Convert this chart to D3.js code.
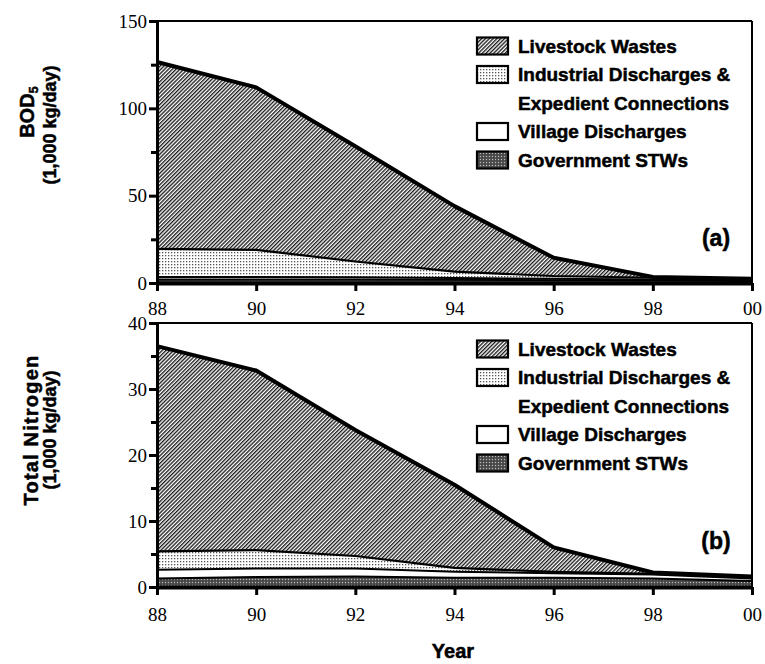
<!DOCTYPE html>
<html>
<head>
<meta charset="utf-8">
<script src="https://cdn.jsdelivr.net/npm/d3@7"></script>
<style>
  html, body { margin: 0; padding: 0; background: #fff; }
  svg { display: block; }
  .tick text { font-family: "Liberation Serif", "Times New Roman", serif; font-size: 19px; fill: #000; }
  .lab { font-family: "Liberation Sans", Arial, sans-serif; font-weight: bold; fill: #000; }
  .heavy { stroke: #000; stroke-width: 0.5px; }
</style>
</head>
<body>
<svg id="chart" width="765" height="664"></svg>
<script>
// ---- data ----
const years = [1988, 1990, 1992, 1994, 1996, 1998, 2000];
const seriesKeys = ["Government STWs", "Village Discharges", "Industrial Discharges", "Livestock Wastes"];

// BOD5 (1,000 kg/day)
const bodGovernment = [2.0, 2.0, 2.0, 1.8, 1.6, 1.4, 1.2];
const bodVillage    = [1.5, 1.5, 1.3, 1.0, 0.8, 0.6, 0.4];
const bodIndustrial = [16, 15.5, 9, 3.7, 1.6, 1.0, 0.4];
const bodLivestock  = [107, 93, 66, 37.5, 10.5, 0.5, 0.5];

// Total Nitrogen (1,000 kg/day)
const tnGovernment = [1.3, 1.5, 1.6, 1.4, 1.4, 1.3, 0.9];
const tnVillage    = [1.3, 1.3, 1.2, 0.9, 0.7, 0.6, 0.4];
const tnIndustrial = [2.8, 2.8, 1.9, 0.6, 0.2, 0.1, 0.2];
const tnLivestock  = [31.1, 27.2, 19.1, 12.6, 3.7, 0.2, 0.1];

const bodMajorTicks = [0, 50, 100, 150];
const bodMinorTicks = [25, 75, 125];
const tnMajorTicks = [0, 10, 20, 30, 40];
const tnMinorTicks = [5, 15, 25, 35];
const xTickLabels = ["88", "90", "92", "94", "96", "98", "00"];

const legendLabels = [
  {key: "Livestock Wastes", lines: ["Livestock Wastes"]},
  {key: "Industrial Discharges", lines: ["Industrial Discharges &", "Expedient Connections"]},
  {key: "Village Discharges", lines: ["Village Discharges"]},
  {key: "Government STWs", lines: ["Government STWs"]}
];

// ---- drawing ----
const svg = d3.select("#chart");
const defs = svg.append("defs");

// hatch for livestock
const hatch = defs.append("pattern").attr("id", "hatch").attr("patternUnits", "userSpaceOnUse")
  .attr("width", 2.7).attr("height", 2.7).attr("patternTransform", "rotate(45)");
hatch.append("rect").attr("width", 2.7).attr("height", 2.7).attr("fill", "#fff");
hatch.append("rect").attr("width", 1.35).attr("height", 2.7).attr("fill", "#1a1a1a");

// dots for industrial
const dots = defs.append("pattern").attr("id", "dots").attr("patternUnits", "userSpaceOnUse")
  .attr("width", 3).attr("height", 3);
dots.append("rect").attr("width", 3).attr("height", 3).attr("fill", "#fff");
dots.append("rect").attr("width", 1.3).attr("height", 1.3).attr("fill", "#555");

// stipple for government
const stip = defs.append("pattern").attr("id", "stipple").attr("patternUnits", "userSpaceOnUse")
  .attr("width", 3).attr("height", 3);
stip.append("rect").attr("width", 3).attr("height", 3).attr("fill", "#555");
stip.append("rect").attr("x", 0).attr("y", 0).attr("width", 1).attr("height", 1).attr("fill", "#bbb");
stip.append("rect").attr("x", 1.5).attr("y", 1.5).attr("width", 1).attr("height", 1).attr("fill", "#222");

const fills = {
  "Livestock Wastes": "url(#hatch)",
  "Industrial Discharges": "url(#dots)",
  "Village Discharges": "#fff",
  "Government STWs": "url(#stipple)"
};
const lineWidths = {
  "Livestock Wastes": 4,
  "Industrial Discharges": 2.2,
  "Village Discharges": 2,
  "Government STWs": 2
};

const left = 157, right = 752;
const x = d3.scaleLinear().domain([1988, 2000]).range([left, right]);

function panel(cfg) {
  const g = svg.append("g");
  const y = d3.scaleLinear().domain([0, cfg.max]).range([cfg.bottom, cfg.top]);
  const rows = years.map((yr, i) => ({
    year: yr,
    "Government STWs": cfg.gov[i],
    "Village Discharges": cfg.vil[i],
    "Industrial Discharges": cfg.ind[i],
    "Livestock Wastes": cfg.liv[i]
  }));
  const stacked = d3.stack().keys(seriesKeys)(rows);
  const area = d3.area().x(d => x(d.data.year)).y0(d => y(d[0])).y1(d => y(d[1]));
  const line = d3.line().x(d => x(d.data.year)).y(d => y(d[1]));

  g.selectAll("path.area").data(stacked).join("path")
    .attr("class", "area").attr("d", area).attr("fill", s => fills[s.key]).attr("stroke", "none");
  g.selectAll("path.top").data(stacked).join("path")
    .attr("class", "top").attr("d", line).attr("fill", "none")
    .attr("stroke", "#000").attr("stroke-width", s => lineWidths[s.key]).attr("stroke-linejoin", "round");

  // frame (top and right)
  g.append("line").attr("x1", left).attr("x2", right).attr("y1", cfg.top).attr("y2", cfg.top)
    .attr("stroke", "#000").attr("stroke-width", 2);
  g.append("line").attr("x1", right).attr("x2", right).attr("y1", cfg.top).attr("y2", cfg.bottom)
    .attr("stroke", "#000").attr("stroke-width", 2);

  // y axis
  const yMinor = g.append("g").attr("transform", `translate(${left},0)`)
    .call(d3.axisLeft(y).tickValues(cfg.minor).tickSize(6).tickFormat(""));
  yMinor.select(".domain").remove();
  yMinor.selectAll(".tick line").attr("stroke-width", 3);
  const yAx = g.append("g").attr("transform", `translate(${left},0)`)
    .call(d3.axisLeft(y).tickValues(cfg.major).tickSize(8).tickPadding(2).tickSizeOuter(0));
  yAx.select(".domain").attr("stroke-width", 3);
  yAx.selectAll(".tick line").attr("stroke-width", 3);

  // x axis
  const xAx = g.append("g").attr("transform", `translate(0,${cfg.bottom})`)
    .call(d3.axisBottom(x).tickValues(years).tickSize(8).tickPadding(cfg.xpad).tickSizeOuter(0)
      .tickFormat((d, i) => xTickLabels[i]));
  xAx.select(".domain").attr("stroke-width", 4);
  xAx.selectAll(".tick line").attr("stroke-width", 3);

  // legend
  const lg = g.append("g");
  let row = 0;
  legendLabels.forEach(item => {
    const cy = cfg.legendTop + row * cfg.legendStep;
    lg.append("rect").attr("x", 477).attr("y", cy - 8.5).attr("width", 31).attr("height", 17)
      .attr("fill", fills[item.key]).attr("stroke", "#000").attr("stroke-width", 2.2);
    item.lines.forEach((t, j) => {
      lg.append("text").attr("class", "lab heavy").attr("x", 518).attr("y", cy + (j * cfg.legendStep))
        .attr("dy", "0.35em").style("font-size", "19px").text(t);
    });
    row += item.lines.length;
  });

  // panel letter
  g.append("text").attr("class", "lab heavy").attr("x", 716).attr("y", cfg.letterY).attr("dy", "0.35em")
    .attr("text-anchor", "middle").style("font-size", "23px").text(cfg.letter);

  // y title
  const t1 = g.append("text").attr("class", "lab heavy").attr("text-anchor", "middle")
    .attr("transform", `translate(${cfg.t1x},${cfg.t1y}) rotate(-90)`).style("font-size", "20px")
    .style("letter-spacing", cfg.t1ls);
  cfg.title1(t1);
  g.append("text").attr("class", "lab heavy").attr("text-anchor", "middle")
    .attr("transform", `translate(56,${cfg.t2y}) rotate(-90)`).style("font-size", "18px")
    .text("(1,000 kg/day)");
}

panel({
  top: 21, bottom: 283, max: 150, major: bodMajorTicks, minor: bodMinorTicks,
  gov: bodGovernment, vil: bodVillage, ind: bodIndustrial, liv: bodLivestock,
  xpad: 11, legendTop: 46, legendStep: 28.5, letter: "(a)", letterY: 238,
  t1x: 34, t1y: 112, t2y: 125, t1ls: "0px",
  title1: t => { t.append("tspan").text("BOD"); t.append("tspan").attr("dy", "0.3em").style("font-size", "13px").text("5"); }
});

panel({
  top: 323, bottom: 587, max: 40, major: tnMajorTicks, minor: tnMinorTicks,
  gov: tnGovernment, vil: tnVillage, ind: tnIndustrial, liv: tnLivestock,
  xpad: 13, legendTop: 349, legendStep: 28.5, letter: "(b)", letterY: 541,
  t1x: 38, t1y: 430, t2y: 430, t1ls: "1.2px",
  title1: t => t.text("Total Nitrogen")
});

svg.append("text").attr("class", "lab heavy").attr("x", 453).attr("y", 651).attr("dy", "0.35em")
  .attr("text-anchor", "middle").style("font-size", "20px").text("Year");
</script>
</body>
</html>
